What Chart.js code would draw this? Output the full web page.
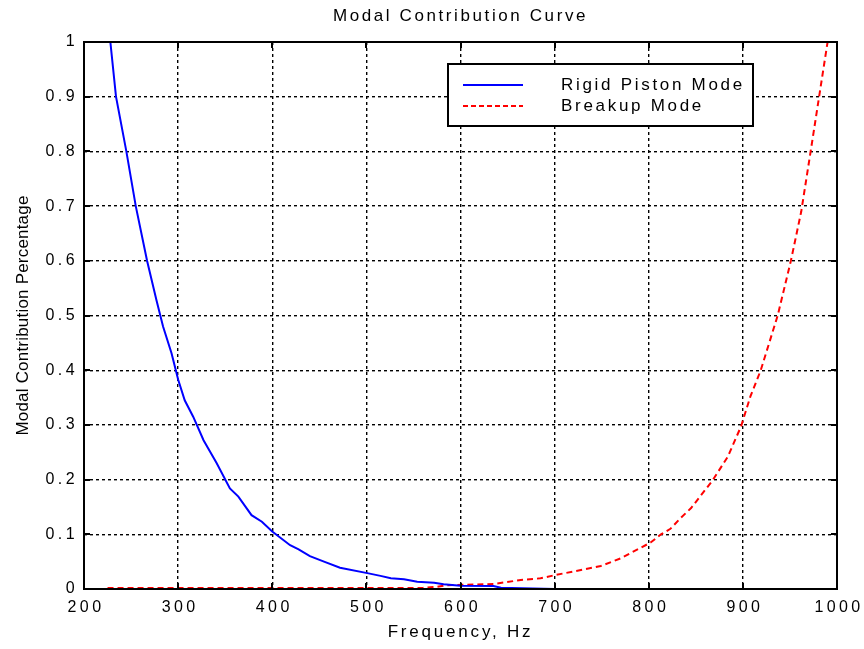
<!DOCTYPE html>
<html><head><meta charset="utf-8">
<script src="https://cdn.jsdelivr.net/npm/chart.js@4.4.1/dist/chart.umd.min.js"></script>
<style>html,body{margin:0;padding:0;background:#fff}canvas{display:block}</style>
</head><body>
<canvas id="c" width="864" height="649"></canvas>
<script>
const chartTitle = 'Modal Contribution Curve';
const xAxisTitle = 'Frequency, Hz';
const yAxisTitle = 'Modal Contribution Percentage';
const seriesNames = ['Rigid Piston Mode', 'Breakup Mode'];
const xTickValues = [200, 300, 400, 500, 600, 700, 800, 900, 1000];
const xTickLabels = ['200', '300', '400', '500', '600', '700', '800', '900', '1000'];
const yTickValues = [0, 0.1, 0.2, 0.3, 0.4, 0.5, 0.6, 0.7, 0.8, 0.9, 1];
const yTickLabels = ['0', '0.1', '0.2', '0.3', '0.4', '0.5', '0.6', '0.7', '0.8', '0.9', '1'];

const rigidFreq = [228, 234, 245, 255, 267, 277, 284, 293, 300, 307, 316, 327, 341, 355, 364, 378, 389, 400, 419, 428, 440, 455, 472, 501, 515, 526, 540, 554, 572, 582, 600, 635, 643, 677, 700, 990];
const rigidVals = [1.0, 0.9, 0.8, 0.7, 0.6, 0.528, 0.48, 0.431, 0.383, 0.345, 0.315, 0.272, 0.23, 0.184, 0.169, 0.135, 0.123, 0.105, 0.08, 0.0725, 0.06, 0.05, 0.039, 0.029, 0.024, 0.0195, 0.0177, 0.0134, 0.0116, 0.0086, 0.006, 0.0055, 0.0024, 0.001, 0, 0];

const breakupFreq = [225, 560, 575, 586, 635, 664, 685, 701, 728, 749, 770, 791, 802, 813, 823, 834, 845, 868, 884, 898, 908, 919, 928, 937, 951, 962, 972, 981, 990];
const breakupVals = [0.002, 0.002, 0.004, 0.007, 0.009, 0.0165, 0.0195, 0.0256, 0.0347, 0.042, 0.056, 0.075, 0.085, 0.1, 0.11, 0.13, 0.148, 0.199, 0.242, 0.297, 0.352, 0.4, 0.45, 0.5, 0.6, 0.69, 0.8, 0.9, 1.0];

const FONT = "'Liberation Sans', Arial, Helvetica, sans-serif";

const pairs = (xs, ys) => xs.map((x, i) => ({x: x, y: ys[i]}));

const framePlugin = {
  id: 'framePlugin',
  beforeDraw(chart) {
    chart.ctx.letterSpacing = '2.6px';
    Object.values(chart.scales).forEach(s => {
      if (s._lsWrapped) return;
      s._lsWrapped = true;
      const dl = s.drawLabels.bind(s);
      const dt = s.drawTitle.bind(s);
      s.drawLabels = function (ca) {
        const c = this.ctx; c.save(); c.letterSpacing = '3.4px'; dl(ca); c.restore();
      };
      s.drawTitle = function () {
        const c = this.ctx; c.save(); c.letterSpacing = this.axis === 'y' ? '0.2px' : '2.8px'; dt(); c.restore();
      };
    });
  },
  afterDatasetsDraw(chart) {
    const ctx = chart.ctx;
    const a = chart.chartArea;
    const xs = chart.scales.x, ys = chart.scales.y;
    ctx.save();
    ctx.strokeStyle = '#000';
    ctx.lineWidth = 2;
    ctx.setLineDash([]);
    ctx.beginPath();
    const tl = 6;
    xTickValues.forEach(v => {
      const p = Math.round(xs.getPixelForValue(v));
      ctx.moveTo(p, a.bottom); ctx.lineTo(p, a.bottom - tl);
      ctx.moveTo(p, a.top); ctx.lineTo(p, a.top + tl);
    });
    yTickValues.forEach(v => {
      const p = Math.round(ys.getPixelForValue(v));
      ctx.moveTo(a.left, p); ctx.lineTo(a.left + tl, p);
      ctx.moveTo(a.right, p); ctx.lineTo(a.right - tl, p);
    });
    ctx.stroke();
    ctx.strokeRect(a.left, a.top, a.right - a.left, a.bottom - a.top);
    ctx.restore();
  },
  afterDraw(chart) {
    const ctx = chart.ctx;
    ctx.save();
    ctx.letterSpacing = '2.7px';
    const bx = 448, by = 64, bw = 305, bh = 62;
    ctx.fillStyle = '#fff';
    ctx.fillRect(bx, by, bw, bh);
    ctx.strokeStyle = '#000';
    ctx.lineWidth = 2;
    ctx.strokeRect(bx, by, bw, bh);
    ctx.font = '17px ' + FONT;
    ctx.textBaseline = 'alphabetic';
    ctx.textAlign = 'left';
    chart.data.datasets.forEach((ds, i) => {
      const y = 85 + i * 21;
      ctx.beginPath();
      ctx.strokeStyle = ds.borderColor;
      ctx.lineWidth = 2;
      ctx.setLineDash(i === 1 ? [5, 3] : []);
      ctx.moveTo(463, y); ctx.lineTo(523, y);
      ctx.stroke();
      ctx.setLineDash([]);
      ctx.fillStyle = '#000';
      ctx.fillText(ds.label, 561, y + 5);
    });
    ctx.restore();
  }
};

new Chart(document.getElementById('c'), {
  type: 'line',
  data: {
    datasets: [
      {label: seriesNames[0], data: pairs(rigidFreq, rigidVals), borderColor: '#0000ff', borderWidth: 2, pointRadius: 0, tension: 0, fill: false},
      {label: seriesNames[1], data: pairs(breakupFreq, breakupVals), borderColor: '#ff0000', borderWidth: 2, borderDash: [6, 4], pointRadius: 0, tension: 0, fill: false}
    ]
  },
  options: {
    responsive: false,
    animation: false,
    devicePixelRatio: 1,
    color: '#000',
    layout: {padding: {left: 0, right: 27, top: 0, bottom: 0}},
    plugins: {
      legend: {display: false},
      tooltip: {enabled: false},
      title: {display: true, fullSize: false, text: chartTitle, color: '#000', font: {family: FONT, size: 17, weight: 'normal'}, padding: {top: 6, bottom: 15.6}}
    },
    scales: {
      x: {
        type: 'linear', min: 200, max: 1000,
        afterFit: s => { s.height = 60; },
        afterBuildTicks: s => { s.ticks = xTickValues.map(v => ({value: v})); },
        grid: {color: '#000', lineWidth: 1.4, drawTicks: false},
        border: {display: false, dash: [3, 3]},
        ticks: {color: '#000', font: {family: FONT, size: 16}, padding: 9, labelOffset: 2, maxRotation: 0, autoSkip: false,
          callback: (v) => xTickLabels[xTickValues.indexOf(v)]},
        title: {display: true, text: xAxisTitle, color: '#000', font: {family: FONT, size: 17}, padding: {top: 0, bottom: 6}}
      },
      y: {
        type: 'linear', min: 0, max: 1,
        afterFit: s => { s.width = 84; },
        afterBuildTicks: s => { s.ticks = yTickValues.map(v => ({value: v})); },
        grid: {color: '#000', lineWidth: 1.4, drawTicks: false},
        border: {display: false, dash: [3, 3]},
        ticks: {color: '#000', font: {family: FONT, size: 16}, padding: 6, autoSkip: false,
          callback: (v) => yTickLabels[yTickValues.indexOf(v)]},
        title: {display: true, text: yAxisTitle, color: '#000', font: {family: FONT, size: 17}, padding: {top: 13, bottom: 0}}
      }
    }
  },
  plugins: [framePlugin]
});
</script>
</body></html>
